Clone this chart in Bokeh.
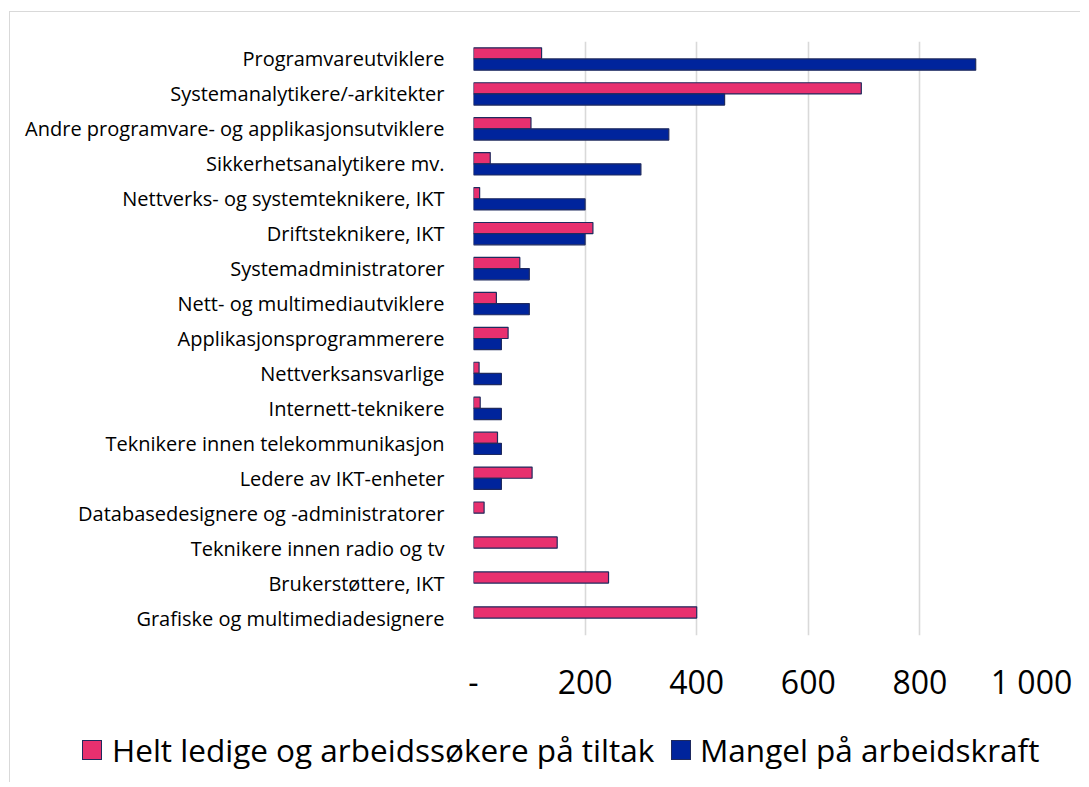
from bokeh.plotting import figure
from bokeh.layouts import column
from bokeh.models import ColumnDataSource, FactorRange, Range1d, FixedTicker, Div
from bokeh.transform import dodge
from bokeh.embed import file_html
from bokeh.resources import INLINE

categories = [
    "Programvareutviklere",
    "Systemanalytikere/-arkitekter",
    "Andre programvare- og applikasjonsutviklere",
    "Sikkerhetsanalytikere mv.",
    "Nettverks- og systemteknikere, IKT",
    "Driftsteknikere, IKT",
    "Systemadministratorer",
    "Nett- og multimediautviklere",
    "Applikasjonsprogrammerere",
    "Nettverksansvarlige",
    "Internett-teknikere",
    "Teknikere innen telekommunikasjon",
    "Ledere av IKT-enheter",
    "Databasedesignere og -administratorer",
    "Teknikere innen radio og tv",
    "Brukerstøttere, IKT",
    "Grafiske og multimediadesignere",
]
ledige = [122, 695, 103, 30, 11, 214, 83, 41, 62, 10, 12, 43, 105, 19, 150, 242, 400]
mangel = [900, 450, 350, 300, 200, 200, 100, 100, 50, 50, 50, 50, 50, 0, 0, 0, 0]
series_names = ["Helt ledige og arbeidssøkere på tiltak", "Mangel på arbeidskraft"]
x_ticks = [0, 200, 400, 600, 800, 1000]
x_tick_labels = ["-", "200", "400", "600", "800", "1 000"]

PINK = "#E8306F"
BLUE = "#00249C"
EDGE = "#1F2A5E"
FONT = "Open Sans"

src_l = ColumnDataSource(dict(cat=[c for c, v in zip(categories, ledige) if v > 0],
                              val=[v for v in ledige if v > 0]))
src_m = ColumnDataSource(dict(cat=[c for c, v in zip(categories, mangel) if v > 0],
                              val=[v for v in mangel if v > 0]))

# main chart
p = figure(
    width=1070, height=698,
    y_range=FactorRange(factors=list(reversed(categories)), range_padding=0),
    x_range=Range1d(0, 1000),
    min_border_left=463, min_border_top=29, min_border_right=49, min_border_bottom=75,
    output_backend="svg", toolbar_location=None,
)

p.hbar(y=dodge("cat", 0.16, range=p.y_range), right="val", left=0, height=0.32,
       source=src_l, fill_color=PINK, line_color=EDGE, line_width=1.2)
p.hbar(y=dodge("cat", -0.16, range=p.y_range), right="val", left=0, height=0.32,
       source=src_m, fill_color=BLUE, line_color=EDGE, line_width=1.2)

p.outline_line_color = None
p.background_fill_color = "white"
p.border_fill_color = "white"

p.ygrid.grid_line_color = None
p.xgrid.grid_line_color = "#d9d9d9"
p.xgrid.grid_line_width = 1.6
p.xgrid.ticker = FixedTicker(ticks=x_ticks)

xa = p.xaxis[0]
xa.ticker = FixedTicker(ticks=x_ticks)
xa.major_label_overrides = {t: l for t, l in zip(x_ticks, x_tick_labels)}
xa.axis_line_color = None
xa.major_tick_line_color = None
xa.minor_tick_line_color = None
xa.major_label_text_font = FONT
xa.major_label_text_font_size = "32px"
xa.major_label_text_color = "#000000"
xa.major_label_standoff = 18

ya = p.yaxis[0]
ya.axis_line_color = None
ya.major_tick_line_color = None
ya.minor_tick_line_color = None
ya.major_label_text_font = FONT
ya.major_label_text_font_size = "20px"
ya.major_label_text_color = "#000000"
ya.major_label_standoff = 23

# legend strip as HTML
square_left = [72, 661]
text_left = [102, 690]
colors = [PINK, BLUE]
parts = []
for sl, tl, c, name in zip(square_left, text_left, colors, series_names):
    parts.append(
        f'<span style="position:absolute;left:{sl}px;top:30px;width:20px;height:20px;'
        f'box-sizing:border-box;background:{c};border:1.5px solid {EDGE};"></span>'
    )
    parts.append(
        f'<span style="position:absolute;left:{tl}px;top:40px;transform:translateY(-52%);'
        f'line-height:1;white-space:nowrap;font-family:\'{FONT}\';font-size:31.5px;color:#000;">{name}</span>'
    )
legend_html = ('<div style="position:relative;width:1070px;height:72px;background:white;">'
               + "".join(parts) + "</div>")
leg = Div(text=legend_html, width=1070, height=72, margin=0)

layout = column(p, leg, spacing=0)
layout.styles = {
    "margin-left": "9px", "margin-top": "11px",
    "border-top": "1px solid #d9d9d9", "border-left": "1px solid #d9d9d9",
}

open("out.html", "w").write(file_html(layout, INLINE))
